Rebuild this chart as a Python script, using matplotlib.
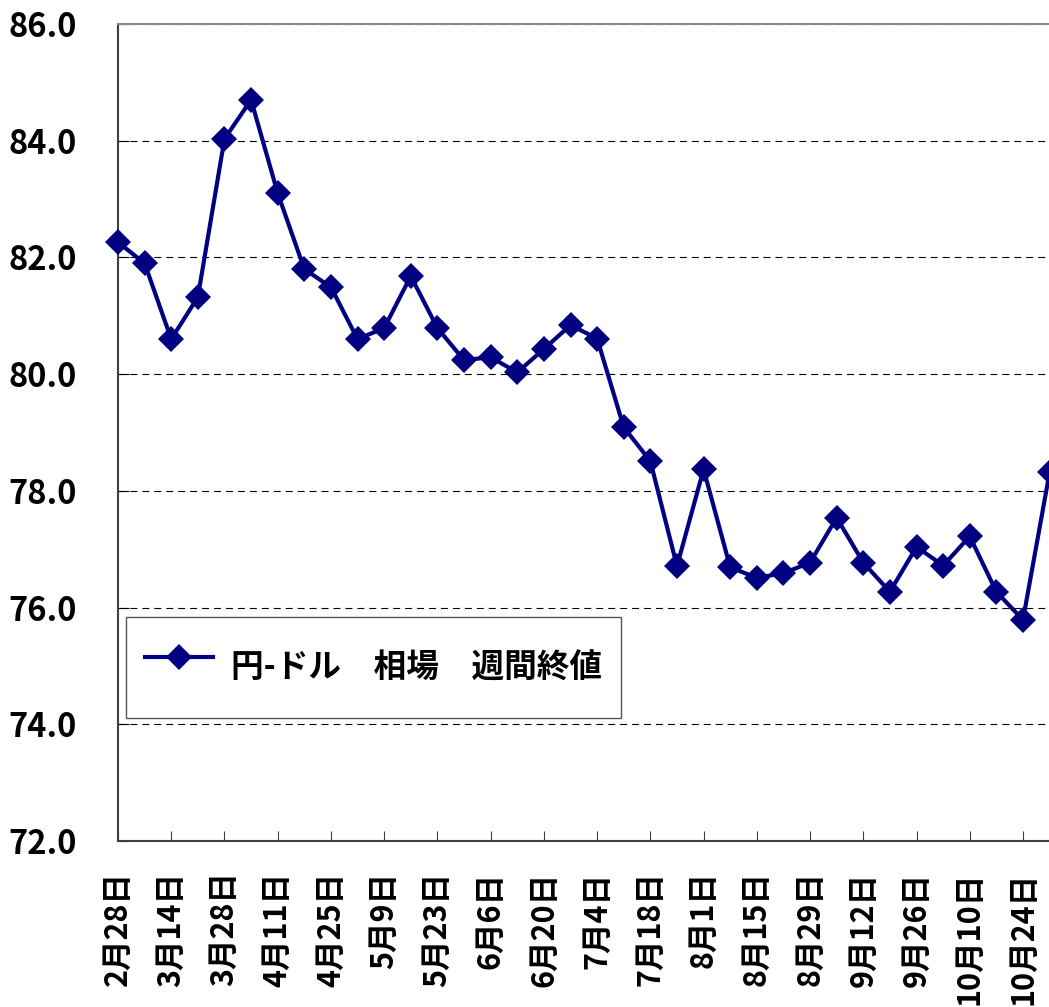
import matplotlib
matplotlib.use("Agg")
import matplotlib.pyplot as plt
import numpy as np

plt.rcParams['font.family'] = ['Noto Sans CJK JP', 'DejaVu Sans']
plt.rcParams['lines.scale_dashes'] = False

dates = ["2月28日", "3月7日", "3月14日", "3月21日", "3月28日", "4月4日",
         "4月11日", "4月18日", "4月25日", "5月2日", "5月9日", "5月16日",
         "5月23日", "5月30日", "6月6日", "6月13日", "6月20日", "6月27日",
         "7月4日", "7月11日", "7月18日", "7月25日", "8月1日", "8月8日",
         "8月15日", "8月22日", "8月29日", "9月5日", "9月12日", "9月19日",
         "9月26日", "10月3日", "10月10日", "10月17日", "10月24日", "10月31日"]
rates = [82.26, 81.90, 80.60, 81.32, 84.03, 84.70,
         83.10, 81.80, 81.49, 80.60, 80.79, 81.68,
         80.79, 80.24, 80.29, 80.03, 80.43, 80.84,
         80.61, 79.09, 78.51, 76.71, 78.37, 76.69,
         76.51, 76.59, 76.77, 77.54, 76.77, 76.27,
         77.04, 76.72, 77.22, 76.27, 75.79, 78.32]
series_name = "円-ドル\u3000相場\u3000週間終値"
y_ticks = [72.0, 74.0, 76.0, 78.0, 80.0, 82.0, 84.0, 86.0]

W, H = 1049, 1007
fig = plt.figure(figsize=(W / 100, H / 100), dpi=100)
step = (1023 - 118) / 34.0
left, bottom, top = 118, 841, 24
xmax = 35.5
ax = fig.add_axes([left / W, (H - bottom) / H, xmax * step / W, (bottom - top) / H])

x = np.arange(len(rates))
ax.plot(x, rates, color='#000080', lw=3.0, marker='D', ms=13.2, mew=0,
        clip_on=False, zorder=3, label=series_name)

ax.set_xlim(0, xmax)
ax.set_ylim(72, 86)
ax.set_yticks(y_ticks)
ax.set_yticklabels([f"{v:.1f}" for v in y_ticks])
ax.set_xticks(x[::2])
ax.set_xticklabels(dates[::2], rotation=90, va='top', ha='center')

for t in ax.get_xticklabels() + ax.get_yticklabels():
    t.set_fontweight('bold')
ax.tick_params(axis='x', direction='in', length=7, width=0.8, color='#404040',
               labelsize=22, pad=22)
ax.tick_params(axis='y', direction='in', length=8, width=0.8, color='#000000',
               labelsize=23.5, pad=29.5)

ax.yaxis.grid(True, color='black', lw=0.8, linestyle=(0, (5, 3.6)))
ax.set_axisbelow(True)

for s in ['left', 'bottom']:
    ax.spines[s].set_color('#404040')
    ax.spines[s].set_linewidth(1.5)
ax.spines['top'].set_color('#8c8c8c')
ax.spines['top'].set_linewidth(1.5)
ax.spines['right'].set_visible(False)

leg = ax.legend(loc='upper left', bbox_to_anchor=(126 / W, 1 - 617 / H),
                bbox_transform=fig.transFigure, borderaxespad=0,
                prop={'size': 23.5, 'weight': 'bold'},
                handlelength=2.1, handletextpad=0.55, borderpad=0.58,
                handleheight=2.6,
                fancybox=False, framealpha=1, edgecolor='#555555')
leg.get_frame().set_linewidth(1.0)

fig.savefig("out.png", dpi=100)
